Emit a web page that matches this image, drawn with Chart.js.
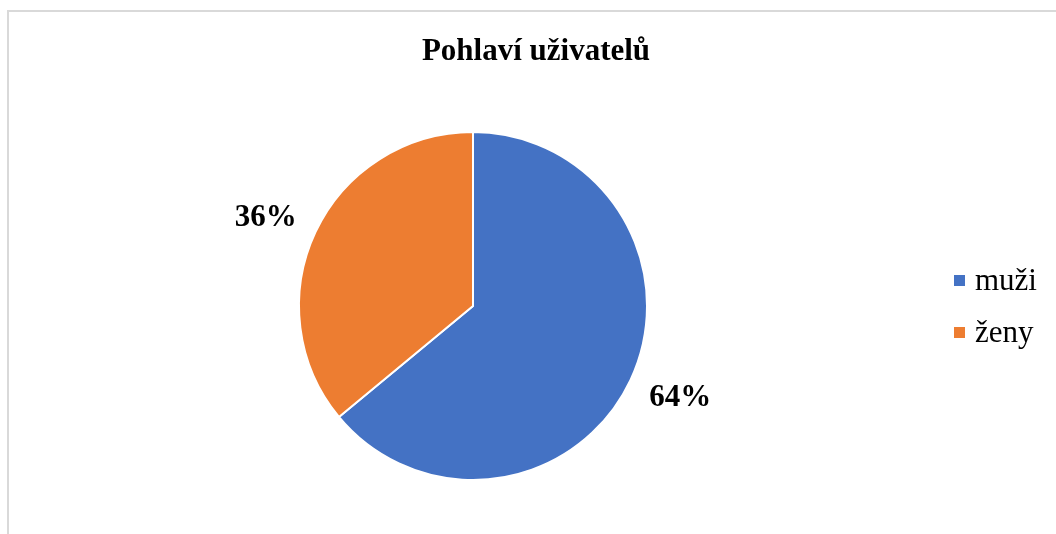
<!DOCTYPE html>
<html>
<head>
<meta charset="utf-8">
<script src="https://cdn.jsdelivr.net/npm/chart.js@4.4.0/dist/chart.umd.min.js"></script>
<style>
    body { margin: 0; background: #fff; overflow: hidden; }
    .frame { position: absolute; left: 7px; top: 10px; width: 1200px; height: 700px; border-left: 2px solid #d9d9d9; border-top: 2px solid #d9d9d9; }
    .GraficoPohlavi { position: absolute; left: 0; top: 0; width: 1056px; height: 534px; }
</style>
</head>
<body>
<div class="frame"></div>
<div class="GraficoPohlavi">
    <canvas id="GraficoPohlavi" width="1056" height="534"></canvas>
</div>
<script>
var kategorie = ['muži', 'ženy'];
var hodnoty = [64, 36];
var barvy = ["#4472C4", "#ED7D31"];
var nadpis = "Pohlaví uživatelů";

var serif = "'Liberation Serif', 'Times New Roman', serif";

// popisky procent, legenda a nadpis
var popiskyPlugin = {
    id: 'popisky',
    afterDraw: function (chart) {
        var ctx = chart.ctx;
        var meta = chart.getDatasetMeta(0);
        var total = hodnoty.reduce(function (a, b) { return a + b; }, 0);

        ctx.save();
        ctx.fillStyle = "#000";
        ctx.textAlign = "center";
        ctx.textBaseline = "middle";

        ctx.font = "bold 31px " + serif;
        ctx.fillText(nadpis, 536, 52);

        // popisek venku za okrajem (jako "outside end" v Excelu)
        ctx.font = "bold 31px " + serif;
        meta.data.forEach(function (arc, i) {
            var text = Math.round(hodnoty[i] / total * 100) + "%";
            var w = ctx.measureText(text).width;
            var h = 28;
            var uhel = (arc.startAngle + arc.endAngle) / 2;
            var r = arc.outerRadius + 24;
            var x = arc.x + Math.cos(uhel) * r + Math.cos(uhel) * w / 2;
            var y = arc.y + Math.sin(uhel) * r + Math.sin(uhel) * h / 2;
            ctx.fillText(text, x, y + 2);
        });

        ctx.textAlign = "left";
        ctx.textBaseline = "alphabetic";
        ctx.font = "31px " + serif;
        kategorie.forEach(function (nazev, i) {
            var y = 290 + i * 52;
            ctx.fillStyle = barvy[i];
            ctx.fillRect(954, y - 15, 11, 11);
            ctx.fillStyle = "#000";
            ctx.fillText(nazev, 975, y);
        });
        ctx.restore();
    }
};

var ctx = document.getElementById("GraficoPohlavi").getContext('2d');
var grafico = new Chart(ctx, {
    type: 'pie',
    data:
    {
        labels: kategorie,
        datasets: [{
            label: nadpis,
            backgroundColor: barvy,
            borderColor: "#ffffff",
            borderWidth: 2,
            data: hodnoty
        }]
    },
    options: {
        responsive: false,
        animation: false,
        events: [],
        layout: {
            padding: { left: 298, right: 408, top: 131, bottom: 53 }
        },
        plugins: {
            legend: { display: false },
            title: { display: false },
            tooltip: { enabled: false }
        }
    },
    plugins: [popiskyPlugin]
});
</script>
</body>
</html>
